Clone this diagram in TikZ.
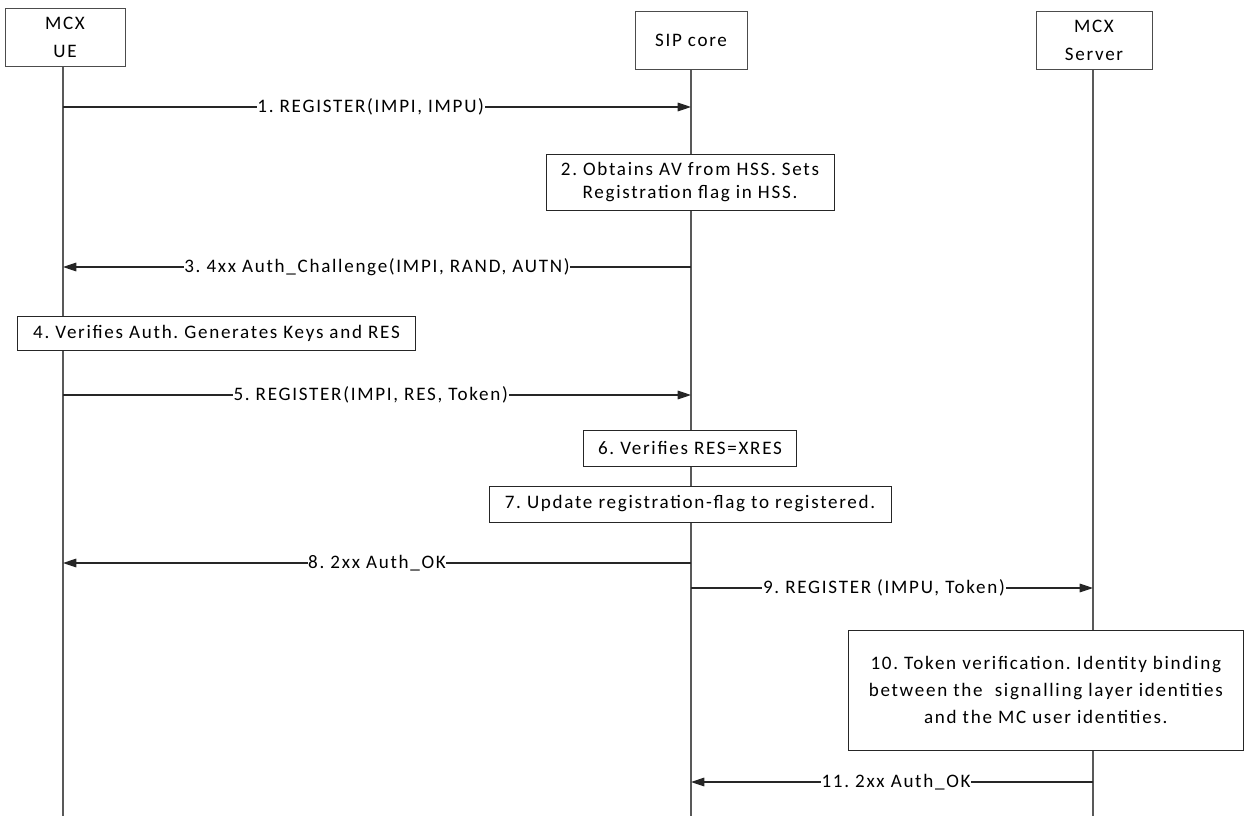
\documentclass[tikz,border=0pt]{standalone}
\usepackage{fontspec}
\setmainfont{Carlito}[LetterSpace=9]
\frenchspacing
\usetikzlibrary{arrows.meta}

\begin{document}
\begin{tikzpicture}[x=0.75pt,y=0.75pt,yscale=-1,xscale=1,
  every node/.style={font=\fontsize{14.3}{20.5}\selectfont},
  actor/.style={draw=black!70,line width=0.7pt,fill=white,align=center,inner sep=0pt},
  notebox/.style={draw=black!85,line width=0.7pt,fill=white,align=center,inner sep=0pt},
  lifeline/.style={draw=black!65,line width=0.8pt},
  msg/.style={draw=black!85,line width=0.8pt,-{Triangle[length=10pt,width=6.5pt]}},
  msglabel/.style={fill=white,inner sep=0.5pt}]
\useasboundingbox (0,0) rectangle (1244,816);

%Actors
\node[actor,minimum width=90pt,minimum height=44pt] (ue) at (65,37.5) {MCX\\UE};
\node[actor,minimum width=84pt,minimum height=43pt] (sip) at (691,40.5) {SIP core};
\node[actor,minimum width=87pt,minimum height=43pt] (srv) at (1094,40.5) {MCX\\Server};

%Lifelines
\coordinate (ue-end) at (63,816);
\coordinate (sip-end) at (691,816);
\coordinate (srv-end) at (1093,816);
\draw[lifeline] (ue.south -| ue-end) -- (ue-end);
\draw[lifeline] (sip.south -| sip-end) -- (sip-end);
\draw[lifeline] (srv.south -| srv-end) -- (srv-end);

%Points on the lifelines
\foreach \n/\y in {1/107,3/267,5/395,8/563}{
  \coordinate (ue\n) at (63,\y);
  \coordinate (sip\n) at (691,\y);
}
\foreach \n/\y in {9/588,11/782}{
  \coordinate (sip\n) at (691,\y);
  \coordinate (srv\n) at (1093,\y);
}

%Messages
\draw[msg] (ue1) -- (sip1) node[msglabel,pos=0.49] (m1) {1. REGISTER(IMPI, IMPU)};
\node[notebox,minimum width=216pt,minimum height=42pt,font=\fontsize{14.3}{17.5}\selectfont] (n2) at (690,182) {2. Obtains AV from HSS. Sets\\Registration flag in HSS.};
\draw[msg] (sip3) -- (ue3) node[msglabel,pos=0.5] (m3) {3. 4xx Auth\_Challenge(IMPI, RAND, AUTN)};
\node[notebox,minimum width=298pt,minimum height=25pt] (n4) at (216.5,333.5) {4. Verifies Auth. Generates Keys and RES};
\draw[msg] (ue5) -- (sip5) node[msglabel,pos=0.49] (m5) {5. REGISTER(IMPI, RES, Token)};
\node[notebox,minimum width=160pt,minimum height=27pt] (n6) at (690,448) {6. Verifies RES=XRES};
\node[notebox,minimum width=301.5pt,minimum height=27pt] (n7) at (690,504) {7. Update registration-flag to registered.};
\draw[msg] (sip8) -- (ue8) node[msglabel,pos=0.5] (m8) {8. 2xx Auth\_OK};
\draw[msg] (sip9) -- (srv9) node[msglabel,pos=0.48] (m9) {9. REGISTER (IMPU, Token)};
\node[notebox,minimum width=296.5pt,minimum height=90pt,font=\fontsize{14.3}{20}\selectfont] (n10) at (1045.8,690) {10. Token verification. Identity binding\\between the \ signalling layer identities\\and the MC user identities.};
\draw[msg] (srv11) -- (sip11) node[msglabel,pos=0.49] (m11) {11. 2xx Auth\_OK};

\end{tikzpicture}
\end{document}
